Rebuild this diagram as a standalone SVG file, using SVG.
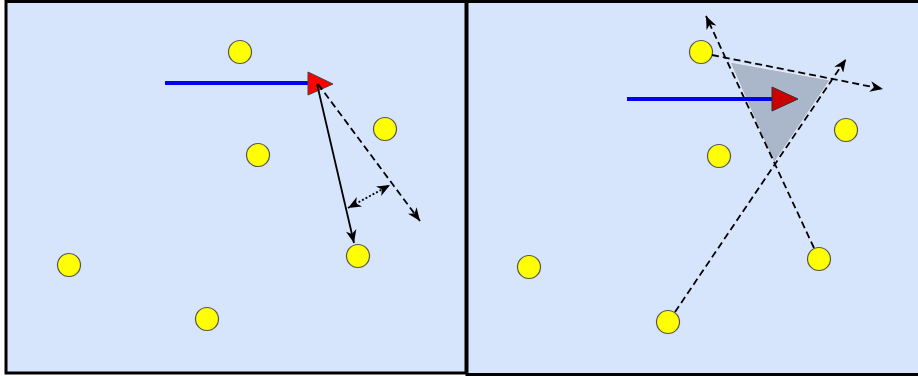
<svg xmlns="http://www.w3.org/2000/svg" width="918" height="376" viewBox="0 0 918 376">
<style>
.panel{fill:#d6e4fc;stroke:#000;stroke-width:3}
.pt{fill:#ffff00;stroke:#555;stroke-width:1.2}
.ray{stroke:#0000ee;stroke-width:4;fill:none}
.dash{stroke:#000;stroke-width:1.8;stroke-dasharray:7,4;fill:none}
.solid{stroke:#000;stroke-width:1.8;fill:none}
.dot{stroke:#000;stroke-width:1.8;stroke-dasharray:2,2;fill:none}
</style>
<defs>
<marker id="ah" viewBox="0 0 12 10" refX="12" refY="5" markerWidth="13" markerHeight="11" markerUnits="userSpaceOnUse" orient="auto-start-reverse">
<path d="M0,0 L12,5 L0,10 L3.5,5 z" fill="#000"/>
</marker>
</defs>
<g id="panel-left">
<rect class="panel" x="6" y="1.5" width="460" height="371.5"/>
</g>
<g id="panel-right">
<rect class="panel" x="467" y="1.5" width="460" height="373"/>
</g>
<g id="left-points">
<circle id="l1" class="pt" cx="240" cy="52" r="11.5"/>
<circle id="l2" class="pt" cx="385" cy="129" r="11.5"/>
<circle id="l3" class="pt" cx="258" cy="155" r="11.5"/>
<circle id="l4" class="pt" cx="69" cy="265" r="11.5"/>
<circle id="l5" class="pt" cx="358" cy="256" r="11.5"/>
<circle id="l6" class="pt" cx="207" cy="319" r="11.5"/>
</g>
<g id="left-ray"><line class="ray" x1="165" y1="83" x2="310" y2="83"/></g>
<g id="left-agent"><polygon points="308,72 308,95 333,84" fill="#ff0000" stroke="#444" stroke-width="1"/></g>
<g id="right-cone"><polygon points="730,62 830,80 774,163" fill="#aab6ca" stroke="#e8eefa" stroke-width="1"/></g>
<g id="right-points">
<circle id="r1" class="pt" cx="701" cy="52" r="11.5"/>
<circle id="r2" class="pt" cx="846" cy="130" r="11.5"/>
<circle id="r3" class="pt" cx="719" cy="156" r="11.5"/>
<circle id="r4" class="pt" cx="529" cy="267" r="11.5"/>
<circle id="r5" class="pt" cx="819" cy="259" r="11.5"/>
<circle id="r6" class="pt" cx="668" cy="322" r="11.5"/>
</g>
<g id="connectors">
<line class="solid" x1="317" y1="84" x2="354" y2="243" marker-end="url(#ah)"/>
<line class="dash" x1="318" y1="84" x2="420" y2="221" marker-end="url(#ah)"/>
<line class="dot" x1="348" y1="208" x2="390" y2="185" marker-start="url(#ah)" marker-end="url(#ah)"/>
<line class="dash" x1="814" y1="248" x2="706" y2="16" marker-end="url(#ah)"/>
<line class="dash" x1="675" y1="312" x2="846" y2="59" marker-end="url(#ah)"/>
<line class="dash" x1="712" y1="55" x2="883" y2="89" marker-end="url(#ah)"/>
</g>
<g id="right-ray"><line class="ray" x1="627" y1="99" x2="774" y2="99"/></g>
<g id="right-agent"><polygon points="772,87 772,111 798,99" fill="#cc0000" stroke="#333" stroke-width="1"/></g>
</svg>
